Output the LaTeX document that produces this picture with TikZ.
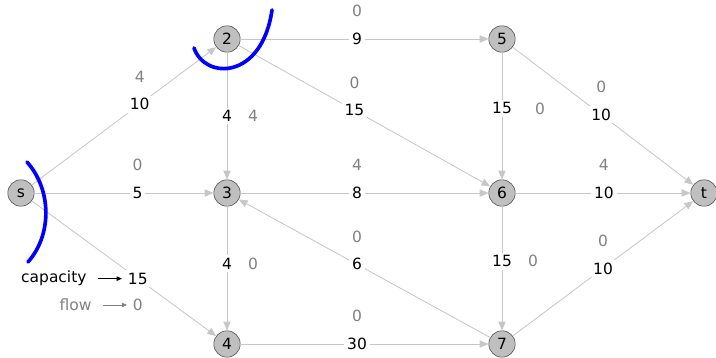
\documentclass[tikz,border=0pt]{standalone}
\usepackage{fontspec}
\setmainfont{DejaVu Sans}
\usetikzlibrary{arrows.meta,positioning}

\begin{document}
\begin{tikzpicture}[x=0.025cm,y=-0.025cm,
  vertex/.style={circle,draw=black!70,fill=gray!50,minimum size=0.66cm,inner sep=0pt,font=\fontsize{11}{13}\selectfont},
  edge/.style={draw=black!22,line width=0.6pt,-{Triangle[length=2.2mm,width=1.8mm]}},
  caplabel/.style={fill=white,inner sep=2pt,text=black,font=\fontsize{11}{13}\selectfont},
  flowlabel/.style={inner sep=2pt,text=black!50,font=\fontsize{11}{13}\selectfont},
  legendarrow/.style={line width=0.5pt,shorten <=6pt,shorten >=2pt,-{Triangle[length=1.3mm,width=1.1mm]}},
  cut/.style={draw=blue,line width=2.6pt,line cap=round}]
\useasboundingbox (0,0) rectangle (716,357);

% vertices
\node[vertex] (s) at (21,193) {s};
\node[vertex] (v2) at (227,39) {2};
\node[vertex] (v3) at (227,193) {3};
\node[vertex] (v4) at (227,344) {4};
\node[vertex] (v5) at (502,39) {5};
\node[vertex] (v6) at (502,193) {6};
\node[vertex] (v7) at (502,344) {7};
\node[vertex] (t) at (704,193) {t};

% edges with capacity
\draw[edge] (s) -- node[caplabel,pos=0.585] (c12) {10} (v2);
\draw[edge] (s) -- node[caplabel,pos=0.575] (c13) {5} (v3);
\draw[edge] (s) -- node[caplabel,pos=0.575] (c14) {15} (v4);
\draw[edge] (v2) -- node[caplabel,pos=0.47] (c25) {9} (v5);
\draw[edge] (v2) -- node[caplabel,pos=0.46] (c26) {15} (v6);
\draw[edge] (v2) -- node[caplabel,pos=0.50] (c23) {4} (v3);
\draw[edge] (v3) -- node[caplabel,pos=0.47] (c36) {8} (v6);
\draw[edge] (v3) -- node[caplabel,pos=0.46] (c34) {4} (v4);
\draw[edge] (v7) -- node[caplabel,pos=0.53] (c73) {6} (v3);
\draw[edge] (v4) -- node[caplabel,pos=0.47] (c47) {30} (v7);
\draw[edge] (v5) -- node[caplabel,pos=0.44] (c56) {15} (v6);
\draw[edge] (v5) -- node[caplabel,pos=0.49] (c5t) {10} (t);
\draw[edge] (v6) -- node[caplabel,pos=0.505] (c6t) {10} (t);
\draw[edge] (v6) -- node[caplabel,pos=0.44] (c67) {15} (v7);
\draw[edge] (v7) -- node[caplabel,pos=0.50] (c7t) {10} (t);

% flow
\node[flowlabel,above=7pt of c12] (f12) {4};
\node[flowlabel,above=7pt of c13] (f13) {0};
\node[flowlabel,below=6pt of c14] (f14) {0};
\node[flowlabel,above=7pt of c25] (f25) {0};
\node[flowlabel,above=7pt of c26] (f26) {0};
\node[flowlabel,right=7pt of c23] (f23) {4};
\node[flowlabel,above=7pt of c36] (f36) {4};
\node[flowlabel,right=7pt of c34] (f34) {0};
\node[flowlabel,above=7pt of c73] (f73) {0};
\node[flowlabel,above=7pt of c47] (f47) {0};
\node[flowlabel,right=12pt of c56] (f56) {0};
\node[flowlabel,above=7pt of c5t] (f5t) {0};
\node[flowlabel,above=7pt of c6t] (f6t) {4};
\node[flowlabel,right=7pt of c67] (f67) {0};
\node[flowlabel,above=7pt of c7t] (f7t) {0};

% legend
\node[caplabel,fill=none,left=25pt of c14] (capacity) {capacity};
\node[flowlabel,left=25pt of f14] (flowtxt) {flow};
\draw[legendarrow] (capacity) -- (c14);
\draw[legendarrow,black!50] (flowtxt) -- (f14);

% cuts
\draw[cut] (27,162) .. controls (52,190) and (52,235) .. (28,262);
\draw[cut] (194,48) .. controls (205,80) and (262,80) .. (272,10);
\end{tikzpicture}
\end{document}
